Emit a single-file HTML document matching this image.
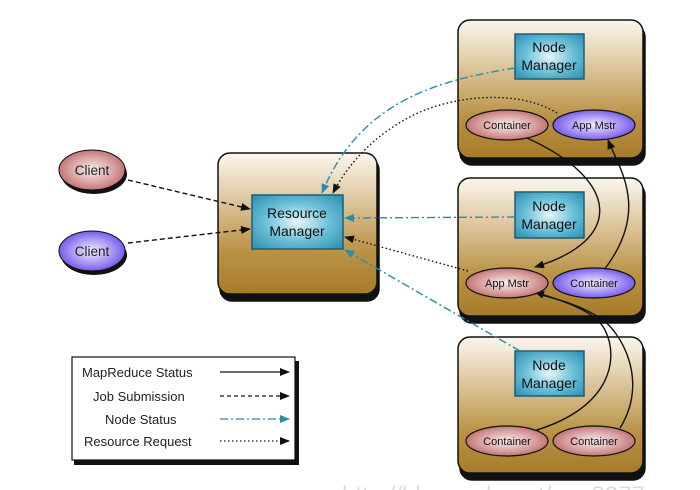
<!DOCTYPE html>
<html><head><meta charset="utf-8"><style>
html,body{margin:0;padding:0;background:#fff;width:700px;height:490px;overflow:hidden}
svg{display:block}
text{font-family:"Liberation Sans",sans-serif}
</style></head><body>
<svg width="700" height="490" viewBox="0 0 700 490" xmlns="http://www.w3.org/2000/svg">
<defs>
<linearGradient id="box" x1="0" y1="0" x2="0" y2="1">
<stop offset="0" stop-color="#fbf7ee"/><stop offset="0.35" stop-color="#dcc49a"/><stop offset="0.7" stop-color="#b99245"/><stop offset="1" stop-color="#a67c2a"/>
</linearGradient>
<radialGradient id="blue" cx="0.5" cy="0.5" r="0.7">
<stop offset="0" stop-color="#e8f6fa"/><stop offset="0.5" stop-color="#6cc0d8"/><stop offset="1" stop-color="#2a8db0"/>
</radialGradient>
<radialGradient id="red" cx="0.5" cy="0.5" r="0.6">
<stop offset="0" stop-color="#f8eeee"/><stop offset="0.6" stop-color="#d69a9a"/><stop offset="1" stop-color="#b35b5b"/>
</radialGradient>
<radialGradient id="pur" cx="0.5" cy="0.5" r="0.6">
<stop offset="0" stop-color="#f2eeff"/><stop offset="0.6" stop-color="#9d87f2"/><stop offset="1" stop-color="#5a3ee0"/>
</radialGradient>
<marker id="ab" markerWidth="10" markerHeight="8" refX="9" refY="4" orient="auto" markerUnits="userSpaceOnUse"><path d="M0,0 L10,4 L0,8 z" fill="#111"/></marker>
<marker id="ac" markerWidth="10" markerHeight="8" refX="9" refY="4" orient="auto" markerUnits="userSpaceOnUse"><path d="M0,0 L10,4 L0,8 z" fill="#2a8db0"/></marker>
</defs>

<g stroke="#111" stroke-width="1.5">
<rect x="220" y="158" width="159" height="143" rx="12" fill="#111"/>
<rect x="218" y="153" width="159" height="141" rx="12" fill="url(#box)"/>
<rect x="460" y="25" width="185" height="140" rx="12" fill="#111"/>
<rect x="458" y="20" width="185" height="138" rx="12" fill="url(#box)"/>
<rect x="460" y="183" width="185" height="140" rx="12" fill="#111"/>
<rect x="458" y="178" width="185" height="138" rx="12" fill="url(#box)"/>
<rect x="460" y="342" width="185" height="138" rx="12" fill="#111"/>
<rect x="458" y="337" width="185" height="136" rx="12" fill="url(#box)"/>
</g>

<rect x="74" y="361" width="225" height="104" fill="#111"/>
<rect x="72" y="357" width="223" height="103" fill="#fff" stroke="#111" stroke-width="1.2"/>
<g font-size="13" fill="#222">
<text x="82" y="377">MapReduce Status</text>
<text x="93" y="401">Job Submission</text>
<text x="105" y="424">Node Status</text>
<text x="84" y="446">Resource Request</text>
</g>
<line x1="220" y1="372" x2="289" y2="372" stroke="#111" stroke-width="1.3" marker-end="url(#ab)"/>
<line x1="220" y1="396" x2="289" y2="396" stroke="#111" stroke-width="1.3" stroke-dasharray="4,3" marker-end="url(#ab)"/>
<line x1="220" y1="419" x2="289" y2="419" stroke="#2a8db0" stroke-width="1.3" stroke-dasharray="8,3,2,3" marker-end="url(#ac)"/>
<line x1="220" y1="441" x2="289" y2="441" stroke="#111" stroke-width="1.3" stroke-dasharray="1.5,2.5" marker-end="url(#ab)"/>

<g stroke="#1f5f74" stroke-width="1.5">
<rect x="252" y="195" width="91" height="54" fill="url(#blue)"/>
<rect x="515" y="34" width="69" height="45" fill="url(#blue)"/>
<rect x="515" y="192" width="69" height="46" fill="url(#blue)"/>
<rect x="515" y="351" width="69" height="45" fill="url(#blue)"/>
</g>
<g font-size="14" fill="#111" text-anchor="middle">
<text x="297" y="218">Resource</text><text x="297" y="236">Manager</text>
<text x="549" y="52">Node</text><text x="549" y="70">Manager</text>
<text x="549" y="211">Node</text><text x="549" y="229">Manager</text>
<text x="549" y="370">Node</text><text x="549" y="388">Manager</text>
</g>

<ellipse cx="94" cy="174" rx="33" ry="20" fill="#111"/>
<ellipse cx="92" cy="170" rx="33" ry="20" fill="url(#red)" stroke="#111"/>
<ellipse cx="94" cy="255" rx="33" ry="20" fill="#111"/>
<ellipse cx="92" cy="251" rx="33" ry="20" fill="url(#pur)" stroke="#111"/>
<text x="92" y="175" font-size="13.5" text-anchor="middle" fill="#222">Client</text>
<text x="92" y="256" font-size="13.5" text-anchor="middle" fill="#222">Client</text>

<g fill="none" stroke-width="1.4">
<path d="M128,180 L250,209" stroke="#111" stroke-dasharray="5,3" marker-end="url(#ab)"/>
<path d="M128,243 L250,229" stroke="#111" stroke-dasharray="5,3" marker-end="url(#ab)"/>
<path d="M515,68 C440,80 360,100 322,193" stroke="#2a8db0" stroke-dasharray="8,3,2,3" marker-end="url(#ac)"/>
<path d="M557,113 C520,90 460,95 420,112 C380,130 350,160 333,193" stroke="#111" stroke-dasharray="1.5,2.5" marker-end="url(#ab)"/>
<path d="M515,217 L345,218" stroke="#2a8db0" stroke-dasharray="8,3,2,3" marker-end="url(#ac)"/>
<path d="M468,271 L345,237" stroke="#111" stroke-dasharray="1.5,2.5" marker-end="url(#ab)"/>
<path d="M520,351 L345,250" stroke="#2a8db0" stroke-dasharray="8,3,2,3" marker-end="url(#ac)"/>
<path d="M527,138 C620,180 625,240 535,267" stroke="#111" marker-end="url(#ab)"/>
<path d="M604,270 C650,210 620,170 608,140" stroke="#111" marker-end="url(#ab)"/>
<path d="M530,432 C610,410 620,360 605,330 C595,310 560,300 535,292" stroke="#111" marker-end="url(#ab)"/>
<path d="M620,428 C650,380 620,330 600,318 C580,305 560,300 538,294" stroke="#111"/>
</g>

<g stroke="#111" stroke-width="1.2">
<ellipse cx="507" cy="125" rx="41" ry="15" fill="url(#red)"/>
<ellipse cx="594" cy="125" rx="41" ry="15" fill="url(#pur)"/>
<ellipse cx="507" cy="283" rx="41" ry="15" fill="url(#red)"/>
<ellipse cx="594" cy="283" rx="41" ry="15" fill="url(#pur)"/>
<ellipse cx="507" cy="441" rx="41" ry="15" fill="url(#red)"/>
<ellipse cx="594" cy="441" rx="41" ry="15" fill="url(#red)"/>
</g>
<g font-size="11" fill="#111" text-anchor="middle">
<text x="507" y="129">Container</text><text x="594" y="129">App Mstr</text>
<text x="507" y="287">App Mstr</text><text x="594" y="287">Container</text>
<text x="507" y="445">Container</text><text x="594" y="445">Container</text>
</g>

<text x="342" y="503" font-size="24" fill="#ddd" font-family="Liberation Mono,monospace">http://blog.csdn.net/qq_3977</text>
</svg>
</body></html>
